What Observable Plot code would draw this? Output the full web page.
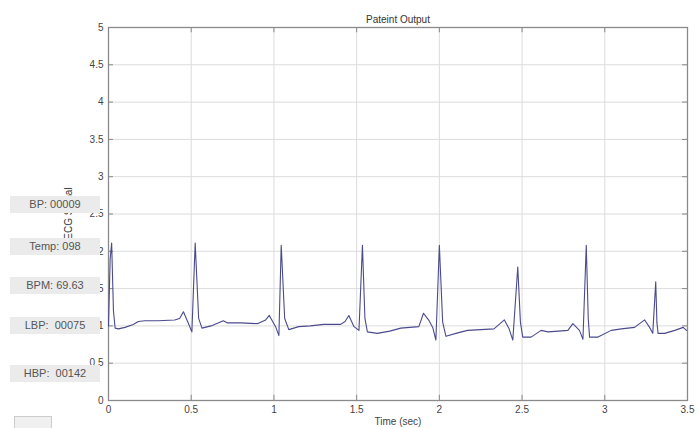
<!DOCTYPE html>
<html>
<head>
<meta charset="utf-8">
<script src="https://cdn.jsdelivr.net/npm/d3@7"></script>
<script src="https://cdn.jsdelivr.net/npm/@observablehq/plot@0.6"></script>
<style>
  html, body { margin: 0; padding: 0; background: #fff; }
  #wrap { position: relative; width: 699px; height: 428px; overflow: hidden; font-family: "Liberation Sans", Arial, sans-serif; }
  .box { position: absolute; left: 10px; width: 90px; height: 17px; background: #ebebeb; color: #555; font-size: 11px; line-height: 17px; text-align: center; white-space: pre; }
  #btn { position: absolute; left: 14px; top: 416px; width: 36px; height: 14px; background: #f0f0f0; border: 1px solid #ccc; }
</style>
</head>
<body>
<div id="wrap"></div>
<script>
const chartTitle = "Pateint Output";
const xLabel = "Time (sec)";
const yLabel = "ECG Signal";
const xTicks = [0, 0.5, 1, 1.5, 2, 2.5, 3, 3.5];
const yTicks = [0, 0.5, 1, 1.5, 2, 2.5, 3, 3.5, 4, 4.5, 5];

// ECG trace
const time = [
  0.000, 0.010, 0.019, 0.030, 0.040, 0.060, 0.100, 0.150, 0.180, 0.220, 0.300, 0.400, 0.430, 0.453, 0.480, 0.504, 0.524, 0.545, 0.565,
  0.620, 0.694, 0.720, 0.800, 0.900, 0.950, 0.972, 1.010, 1.030, 1.044, 1.065, 1.090, 1.150, 1.220,
  1.300, 1.403, 1.430, 1.453, 1.484, 1.514, 1.535, 1.550, 1.565, 1.625, 1.700, 1.767, 1.876, 1.904, 1.924, 1.938, 1.960, 1.979, 2.000, 2.020, 2.040,
  2.100, 2.170, 2.250, 2.330, 2.393, 2.420, 2.444, 2.474, 2.490, 2.504, 2.555, 2.615, 2.656, 2.720, 2.777, 2.807, 2.847, 2.868, 2.888, 2.900, 2.908,
  2.959, 3.039, 3.100, 3.180, 3.241, 3.271, 3.290, 3.308, 3.315, 3.322, 3.362, 3.423, 3.474, 3.494
];
const signal = [
  1.00, 1.90, 2.11, 1.20, 0.97, 0.96, 0.98, 1.02, 1.06, 1.07, 1.07, 1.08, 1.10, 1.19, 1.05, 0.92, 2.11, 1.10, 0.97,
  1.00, 1.07, 1.04, 1.04, 1.03, 1.08, 1.14, 0.99, 0.87, 2.08, 1.10, 0.95, 0.99, 1.00,
  1.02, 1.02, 1.06, 1.14, 0.99, 0.94, 2.08, 1.10, 0.92, 0.90, 0.93, 0.97, 0.99, 1.17, 1.11, 1.07, 0.98, 0.81, 2.08, 1.05, 0.86,
  0.90, 0.94, 0.95, 0.96, 1.08, 0.97, 0.81, 1.79, 1.05, 0.85, 0.85, 0.94, 0.92, 0.93, 0.94, 1.03, 0.94, 0.82, 2.08, 1.10, 0.85,
  0.85, 0.94, 0.96, 0.98, 1.08, 0.98, 0.90, 1.59, 1.05, 0.90, 0.90, 0.94, 0.98, 0.94
];

// readout boxes on the left
const boxLabels = ["BP: 00009", "Temp: 098", "BPM: 69.63", "LBP:  00075", "HBP:  00142"];
const boxLevels = [2.62, 2.06, 1.53, 1.0, 0.36];

const data = time.map((t, i) => ({t, v: signal[i]}));

const chart = Plot.plot({
  width: 699,
  height: 428,
  marginTop: 27,
  marginBottom: 28,
  marginLeft: 108,
  marginRight: 12,
  style: {fontFamily: "Liberation Sans, Arial, sans-serif", fontSize: "10px", color: "#444", background: "#fff"},
  x: {domain: [0, 3.5], ticks: xTicks, tickFormat: d => String(d), tickSize: 0, tickPadding: 5,
      label: xLabel, labelAnchor: "center", labelArrow: "none", labelOffset: 24},
  y: {domain: [0, 5], ticks: yTicks, tickFormat: d => String(d), tickSize: 0, tickPadding: 5, label: null},
  marks: [
    Plot.gridX(xTicks, {stroke: "#dcdcdc", strokeOpacity: 1}),
    Plot.gridY(yTicks, {stroke: "#dcdcdc", strokeOpacity: 1}),
    Plot.ruleX(xTicks, {y1: 0, y2: 0.07, stroke: "#888"}),
    Plot.ruleX(xTicks, {y1: 5, y2: 4.93, stroke: "#888"}),
    Plot.ruleY(yTicks, {x1: 0, x2: 0.03, stroke: "#888"}),
    Plot.ruleY(yTicks, {x1: 3.5, x2: 3.47, stroke: "#888"}),
    Plot.frame({stroke: "#8a8a8a", strokeWidth: 1.3}),
    Plot.line(data, {x: "t", y: "v", stroke: "#4a4a8e", strokeWidth: 1.1}),
    Plot.text([chartTitle], {frameAnchor: "top", dy: -12, fontSize: 10, fill: "#333"})
  ]
});

const wrap = document.getElementById("wrap");
wrap.appendChild(chart);
const ys = chart.scale("y");
d3.select(chart).append("text")
  .attr("transform", `translate(72,${(ys.apply(0) + ys.apply(5)) / 2}) rotate(-90)`)
  .attr("text-anchor", "middle")
  .attr("font-size", 10)
  .attr("fill", "#333")
  .text(yLabel);
boxLabels.forEach((lab, i) => {
  const d = document.createElement("div");
  d.className = "box";
  d.textContent = lab;
  d.style.top = (ys.apply(boxLevels[i]) - 8.5) + "px";
  wrap.appendChild(d);
});
const btn = document.createElement("div");
btn.id = "btn";
wrap.appendChild(btn);
</script>
</body>
</html>
